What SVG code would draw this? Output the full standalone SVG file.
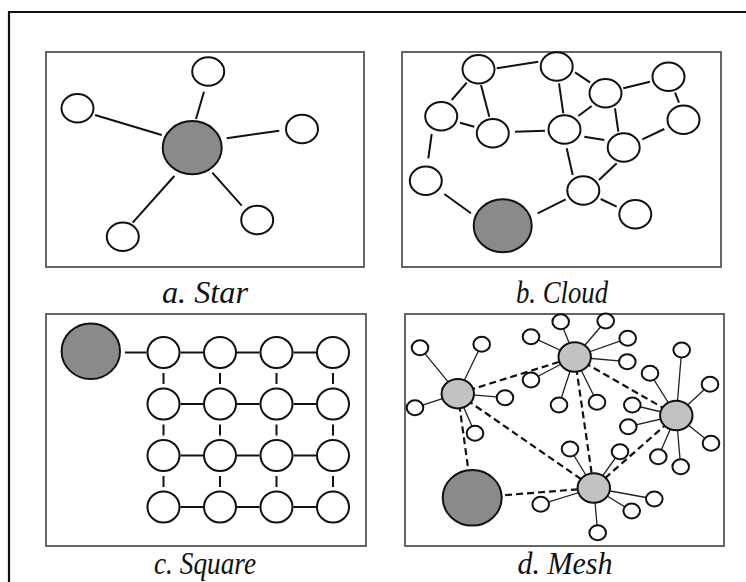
<svg xmlns="http://www.w3.org/2000/svg" width="746" height="582" viewBox="0 0 746 582">
  <style>
    .frame { fill: none; stroke: #111; stroke-width: 2.2; }
    .panel { fill: #fff; stroke: #555; stroke-width: 1.8; }
    .node { fill: #fff; stroke: #111; stroke-width: 2; }
    .big { fill: #8a8a8a; stroke: #111; stroke-width: 2; }
    .hub { fill: #c2c2c2; stroke: #111; stroke-width: 2; }
    .edge { stroke: #111; stroke-width: 2; fill: none; }
    .spoke { stroke: #222; stroke-width: 1.3; fill: none; }
    .dash { stroke: #111; stroke-width: 2.2; stroke-dasharray: 7 4; fill: none; }
    .caption { font-family: "Liberation Serif", "Times New Roman", serif; font-style: italic; font-size: 31px; fill: #111; text-anchor: middle; }
  </style>

  <rect width="746" height="582" fill="#fff"/>
  <!-- outer frame (open to the right and bottom) -->
  <path class="frame" d="M9,582 V12 H746"/>

  <!-- panel frames -->
  <g id="panels">
    <rect class="panel" x="46" y="52" width="318" height="215"/>
    <rect class="panel" x="402" y="52" width="319" height="215"/>
    <rect class="panel" x="46" y="314" width="320" height="232"/>
    <rect class="panel" x="405" y="314" width="319" height="232"/>
  </g>

  <!-- ===== a. Star ===== -->
  <g id="star-connectors">
    <line class="edge" x1="204" y1="91.7" x2="196" y2="119"/>
    <line class="edge" x1="95" y1="115" x2="161.7" y2="135"/>
    <line class="edge" x1="226.7" y1="138.3" x2="279.3" y2="130.7"/>
    <line class="edge" x1="174.3" y1="176" x2="132.7" y2="222.7"/>
    <line class="edge" x1="212.3" y1="172.7" x2="241.7" y2="205.7"/>
  </g>
  <g id="star-hub"><ellipse class="big" cx="192.2" cy="147.7" rx="29.5" ry="26.6"/></g>
  <g id="star-n1"><ellipse class="node" cx="208.2" cy="71.5" rx="16" ry="14.2"/></g>
  <g id="star-n2"><ellipse class="node" cx="77.5" cy="108.3" rx="16" ry="14.2"/></g>
  <g id="star-n3"><ellipse class="node" cx="302" cy="129" rx="16" ry="14.2"/></g>
  <g id="star-n4"><ellipse class="node" cx="122.8" cy="236.8" rx="16" ry="14.2"/></g>
  <g id="star-n5"><ellipse class="node" cx="257.2" cy="220" rx="16" ry="14.2"/></g>
  <text class="caption" x="205" y="303" textLength="86" lengthAdjust="spacingAndGlyphs">a. Star</text>

  <!-- ===== b. Cloud ===== -->
  <g id="cloud-connectors">
    <line class="edge" x1="496.7" y1="68.3" x2="538.3" y2="61.7"/>
    <line class="edge" x1="466.7" y1="82.7" x2="451.7" y2="100"/>
    <line class="edge" x1="481" y1="85" x2="489.3" y2="116.7"/>
    <line class="edge" x1="460" y1="122.7" x2="474.3" y2="126.7"/>
    <line class="edge" x1="431.7" y1="134" x2="428.3" y2="158.3"/>
    <line class="edge" x1="575" y1="72.3" x2="590" y2="82.3"/>
    <line class="edge" x1="559" y1="83.3" x2="563.3" y2="113.3"/>
    <line class="edge" x1="623.3" y1="88.3" x2="650" y2="81.7"/>
    <line class="edge" x1="591.7" y1="106" x2="578.3" y2="116"/>
    <line class="edge" x1="615" y1="108.3" x2="618.3" y2="131.7"/>
    <line class="edge" x1="675" y1="92.7" x2="679" y2="102.7"/>
    <line class="edge" x1="515" y1="131.7" x2="545" y2="130.7"/>
    <line class="edge" x1="584.3" y1="136.7" x2="604.3" y2="140"/>
    <line class="edge" x1="664.3" y1="129" x2="642.3" y2="139.3"/>
    <line class="edge" x1="566.7" y1="148.3" x2="572.7" y2="175"/>
    <line class="edge" x1="616.7" y1="163.3" x2="599" y2="180"/>
    <line class="edge" x1="600.7" y1="199" x2="616.7" y2="206.7"/>
    <line class="edge" x1="565.7" y1="199.3" x2="537.7" y2="213.3"/>
    <line class="edge" x1="444.3" y1="194" x2="471" y2="213.3"/>
  </g>
  <g id="cloud-n1"><ellipse class="node" cx="478.5" cy="69.2" rx="16" ry="14.2"/></g>
  <g id="cloud-n2"><ellipse class="node" cx="556.7" cy="66.5" rx="16" ry="14.2"/></g>
  <g id="cloud-n3"><ellipse class="node" cx="605.5" cy="93.2" rx="16" ry="14.2"/></g>
  <g id="cloud-n4"><ellipse class="node" cx="668.5" cy="76.7" rx="16" ry="14.2"/></g>
  <g id="cloud-n5"><ellipse class="node" cx="441.2" cy="116.2" rx="16" ry="14.2"/></g>
  <g id="cloud-n6"><ellipse class="node" cx="492.8" cy="133.3" rx="16" ry="14.2"/></g>
  <g id="cloud-n7"><ellipse class="node" cx="564.5" cy="129.5" rx="16" ry="14.2"/></g>
  <g id="cloud-n8"><ellipse class="node" cx="683.5" cy="119.8" rx="16" ry="14.2"/></g>
  <g id="cloud-n9"><ellipse class="node" cx="623.7" cy="147.5" rx="16" ry="14.2"/></g>
  <g id="cloud-n10"><ellipse class="node" cx="425.8" cy="180.8" rx="16" ry="14.2"/></g>
  <g id="cloud-n11"><ellipse class="node" cx="583.3" cy="190.5" rx="16" ry="14.2"/></g>
  <g id="cloud-n12"><ellipse class="node" cx="635.3" cy="214.2" rx="16" ry="14.2"/></g>
  <g id="cloud-hub"><ellipse class="big" cx="502.7" cy="225.8" rx="29" ry="26.5"/></g>
  <text class="caption" x="562" y="303" textLength="92" lengthAdjust="spacingAndGlyphs">b. Cloud</text>

  <!-- ===== c. Square ===== -->
  <g id="square-connectors">
    <line class="edge" x1="125" y1="352.5" x2="146.5" y2="352.5"/>
    <!-- rows -->
    <path class="edge" d="M180.5,352.5 H203 M237,352.5 H259.5 M293.5,352.5 H316
                          M180.5,404 H203 M237,404 H259.5 M293.5,404 H316
                          M180.5,455.5 H203 M237,455.5 H259.5 M293.5,455.5 H316
                          M180.5,507 H203 M237,507 H259.5 M293.5,507 H316"/>
    <!-- columns -->
    <path class="edge" d="M163.5,373 V384 M220,373 V384 M276.5,373 V384 M333,373 V384
                          M163.5,424.5 V435.5 M220,424.5 V435.5 M276.5,424.5 V435.5 M333,424.5 V435.5
                          M163.5,476 V487 M220,476 V487 M276.5,476 V487 M333,476 V487"/>
  </g>
  <g id="square-hub"><ellipse class="big" cx="90.8" cy="351.2" rx="29.2" ry="27.8"/></g>
  <g id="square-r1c1"><ellipse class="node" cx="163.5" cy="352.5" rx="16" ry="15.6"/></g>
  <g id="square-r1c2"><ellipse class="node" cx="220" cy="352.5" rx="16" ry="15.6"/></g>
  <g id="square-r1c3"><ellipse class="node" cx="276.5" cy="352.5" rx="16" ry="15.6"/></g>
  <g id="square-r1c4"><ellipse class="node" cx="333" cy="352.5" rx="16" ry="15.6"/></g>
  <g id="square-r2c1"><ellipse class="node" cx="163.5" cy="404" rx="16" ry="15.6"/></g>
  <g id="square-r2c2"><ellipse class="node" cx="220" cy="404" rx="16" ry="15.6"/></g>
  <g id="square-r2c3"><ellipse class="node" cx="276.5" cy="404" rx="16" ry="15.6"/></g>
  <g id="square-r2c4"><ellipse class="node" cx="333" cy="404" rx="16" ry="15.6"/></g>
  <g id="square-r3c1"><ellipse class="node" cx="163.5" cy="455.5" rx="16" ry="15.6"/></g>
  <g id="square-r3c2"><ellipse class="node" cx="220" cy="455.5" rx="16" ry="15.6"/></g>
  <g id="square-r3c3"><ellipse class="node" cx="276.5" cy="455.5" rx="16" ry="15.6"/></g>
  <g id="square-r3c4"><ellipse class="node" cx="333" cy="455.5" rx="16" ry="15.6"/></g>
  <g id="square-r4c1"><ellipse class="node" cx="163.5" cy="507" rx="16" ry="15.6"/></g>
  <g id="square-r4c2"><ellipse class="node" cx="220" cy="507" rx="16" ry="15.6"/></g>
  <g id="square-r4c3"><ellipse class="node" cx="276.5" cy="507" rx="16" ry="15.6"/></g>
  <g id="square-r4c4"><ellipse class="node" cx="333" cy="507" rx="16" ry="15.6"/></g>
  <text class="caption" x="205" y="574" textLength="102" lengthAdjust="spacingAndGlyphs">c. Square</text>

  <!-- ===== d. Mesh ===== -->
  <g id="mesh-connectors">
    <!-- hub-to-hub links -->
    <line class="dash" x1="457.8" y1="393.7" x2="574.7" y2="357"/>
    <line class="dash" x1="457.8" y1="393.7" x2="593.8" y2="488"/>
    <line class="dash" x1="457.8" y1="393.7" x2="472.2" y2="497.8"/>
    <line class="dash" x1="574.7" y1="357" x2="676.3" y2="415.5"/>
    <line class="dash" x1="574.7" y1="357" x2="593.8" y2="488"/>
    <line class="dash" x1="676.3" y1="415.5" x2="593.8" y2="488"/>
    <line class="dash" x1="472.2" y1="497.8" x2="593.8" y2="488"/>
    <!-- spokes -->
    <path class="spoke" d="M457.8,393.7 L420,347.7 M457.8,393.7 L481.7,344.3 M457.8,393.7 L415,407.7 M457.8,393.7 L505,397.7 M457.8,393.7 L475,433.3"/>
    <path class="spoke" d="M574.7,357 L560.7,321.7 M574.7,357 L605.7,321 M574.7,357 L531,336.7 M574.7,357 L627.7,338.3 M574.7,357 L627.3,361.7 M574.7,357 L531,380 M574.7,357 L559,405 M574.7,357 L597,402.3"/>
    <path class="spoke" d="M676.3,415.5 L681.7,350 M676.3,415.5 L650,373.3 M676.3,415.5 L710,384.3 M676.3,415.5 L632.3,405 M676.3,415.5 L628.3,426.7 M676.3,415.5 L711,443.3 M676.3,415.5 L658.3,456.7 M676.3,415.5 L680.7,466.7"/>
    <path class="spoke" d="M593.8,488 L570,449 M593.8,488 L620,451.7 M593.8,488 L540.7,504.3 M593.8,488 L654.3,499 M593.8,488 L631.7,511 M593.8,488 L597.7,532.7"/>
  </g>
  <g id="mesh-big"><ellipse class="big" cx="472.2" cy="497.8" rx="29.5" ry="27.8"/></g>
  <g id="mesh-hub1"><ellipse class="hub" cx="457.8" cy="393.7" rx="16.2" ry="14.7"/></g>
  <g id="mesh-hub2"><ellipse class="hub" cx="574.7" cy="357" rx="16.2" ry="14.7"/></g>
  <g id="mesh-hub3"><ellipse class="hub" cx="676.3" cy="415.5" rx="16.2" ry="14.7"/></g>
  <g id="mesh-hub4"><ellipse class="hub" cx="593.8" cy="488" rx="16.2" ry="14.7"/></g>
  <g id="mesh-leaves">
    <ellipse class="node" cx="420" cy="347.7" rx="8.3" ry="7.5"/>
    <ellipse class="node" cx="481.7" cy="344.3" rx="8.3" ry="7.5"/>
    <ellipse class="node" cx="415" cy="407.7" rx="8.3" ry="7.5"/>
    <ellipse class="node" cx="505" cy="397.7" rx="8.3" ry="7.5"/>
    <ellipse class="node" cx="475" cy="433.3" rx="8.3" ry="7.5"/>
    <ellipse class="node" cx="560.7" cy="321.7" rx="8.3" ry="7.5"/>
    <ellipse class="node" cx="605.7" cy="321" rx="8.3" ry="7.5"/>
    <ellipse class="node" cx="531" cy="336.7" rx="8.3" ry="7.5"/>
    <ellipse class="node" cx="627.7" cy="338.3" rx="8.3" ry="7.5"/>
    <ellipse class="node" cx="627.3" cy="361.7" rx="8.3" ry="7.5"/>
    <ellipse class="node" cx="531" cy="380" rx="8.3" ry="7.5"/>
    <ellipse class="node" cx="559" cy="405" rx="8.3" ry="7.5"/>
    <ellipse class="node" cx="597" cy="402.3" rx="8.3" ry="7.5"/>
    <ellipse class="node" cx="681.7" cy="350" rx="8.3" ry="7.5"/>
    <ellipse class="node" cx="650" cy="373.3" rx="8.3" ry="7.5"/>
    <ellipse class="node" cx="710" cy="384.3" rx="8.3" ry="7.5"/>
    <ellipse class="node" cx="632.3" cy="405" rx="8.3" ry="7.5"/>
    <ellipse class="node" cx="628.3" cy="426.7" rx="8.3" ry="7.5"/>
    <ellipse class="node" cx="711" cy="443.3" rx="8.3" ry="7.5"/>
    <ellipse class="node" cx="658.3" cy="456.7" rx="8.3" ry="7.5"/>
    <ellipse class="node" cx="680.7" cy="466.7" rx="8.3" ry="7.5"/>
    <ellipse class="node" cx="570" cy="449" rx="8.3" ry="7.5"/>
    <ellipse class="node" cx="620" cy="451.7" rx="8.3" ry="7.5"/>
    <ellipse class="node" cx="540.7" cy="504.3" rx="8.3" ry="7.5"/>
    <ellipse class="node" cx="654.3" cy="499" rx="8.3" ry="7.5"/>
    <ellipse class="node" cx="631.7" cy="511" rx="8.3" ry="7.5"/>
    <ellipse class="node" cx="597.7" cy="532.7" rx="8.3" ry="7.5"/>
  </g>
  <text class="caption" x="565" y="574" textLength="95" lengthAdjust="spacingAndGlyphs">d. Mesh</text>
</svg>
